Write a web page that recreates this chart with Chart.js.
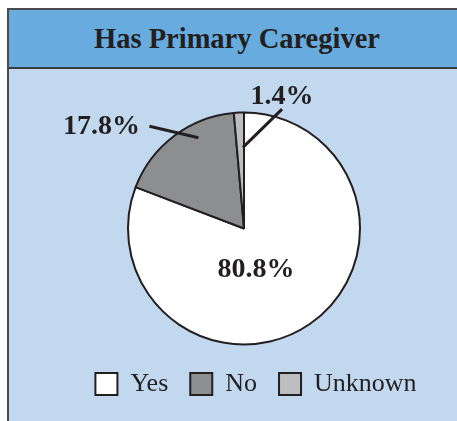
<!DOCTYPE html>
<html>
<head>
<meta charset="utf-8">
<script src="https://cdn.jsdelivr.net/npm/chart.js@4"></script>
<style>
  html, body { margin: 0; padding: 0; background: #ffffff; }
  body { width: 457px; height: 421px; position: relative; overflow: hidden; }
  .panel {
    position: absolute; left: 7px; top: 8px; width: 470px; height: 430px;
    border-left: 2px solid #4a4a4c; border-top: 2px solid #4a4a4c;
    background: #c1d8ef;
  }
  .panel-head {
    height: 57px; background: #67abdf; border-bottom: 2px solid #3b3b3d;
    font: bold 28.5px "Liberation Serif", serif; color: #231f20;
  }
  .panel-head span { position: absolute; left: 0; width: 456px; top: 13px; text-align: center; }
  #wrap { position: absolute; left: 0; top: 0; width: 457px; height: 421px; }
</style>
</head>
<body>
<div class="panel"><div class="panel-head"><span>Has Primary Caregiver</span></div></div>
<div id="wrap"><canvas id="pie"></canvas></div>
<script>
// --- data ---
const categories = ["Yes", "No", "Unknown"];
const shares = [80.8, 17.8, 1.4];
const shareLabels = ["80.8%", "17.8%", "1.4%"];

const sliceColors = ["#ffffff", "#8d8e90", "#bdbec0"];
const ink = "#231f20";

// label placement per slice: offsets (deg) from slice mid angle and radius factors
const labelSpots = [
  { text: [18.3, 0.37], line: null },
  { text: [-17.3, 1.51], line: [[-5.7, 1.2], [10.4, 0.875]] },
  { text: [18.6, 1.18], line: [[20.2, 1.08], [1.8, 0.70]] },
];

const sliceLabels = {
  id: "sliceLabels",
  afterLayout(chart) {
    // legend sits a bit right of the pie centre in the original
    chart.legend.left += 12;
    chart.legend.right += 12;
  },
  afterDatasetsDraw(chart) {
    const ctx = chart.ctx;
    const meta = chart.getDatasetMeta(0);
    meta.data.forEach((arc, i) => {
      const { x, y, startAngle, endAngle, outerRadius } = arc.getProps(
        ["x", "y", "startAngle", "endAngle", "outerRadius"], true);
      const mid = (startAngle + endAngle) / 2;
      const at = ([deg, k]) => {
        const a = mid + deg * Math.PI / 180;
        return [x + Math.cos(a) * outerRadius * k, y + Math.sin(a) * outerRadius * k];
      };
      const spot = labelSpots[i];
      ctx.save();
      if (spot.line) {
        const [x1, y1] = at(spot.line[0]);
        const [x2, y2] = at(spot.line[1]);
        ctx.strokeStyle = ink;
        ctx.lineWidth = 3;
        ctx.beginPath();
        ctx.moveTo(x1, y1);
        ctx.lineTo(x2, y2);
        ctx.stroke();
      }
      const [tx, ty] = at(spot.text);
      ctx.fillStyle = ink;
      ctx.font = "bold 28px 'Liberation Serif', serif";
      ctx.textAlign = "center";
      ctx.textBaseline = "middle";
      ctx.fillText(shareLabels[i], tx, ty);
      ctx.restore();
    });
  },
};

new Chart(document.getElementById("pie"), {
  type: "pie",
  data: {
    labels: categories,
    datasets: [{
      data: shares,
      backgroundColor: sliceColors,
      borderColor: ink,
      borderWidth: 2,
      radius: 116,
    }],
  },
  options: {
    responsive: true,
    maintainAspectRatio: false,
    animation: false,
    layout: { padding: { left: 31, right: 0, top: 108, bottom: 14 } },
    plugins: {
      tooltip: { enabled: false },
      legend: {
        position: "bottom",
        labels: {
          boxWidth: 22,
          boxHeight: 22,
          padding: 22,
          color: ink,
          font: { family: "'Liberation Serif', serif", size: 26 },
        },
      },
    },
  },
  plugins: [sliceLabels],
});
</script>
</body>
</html>
